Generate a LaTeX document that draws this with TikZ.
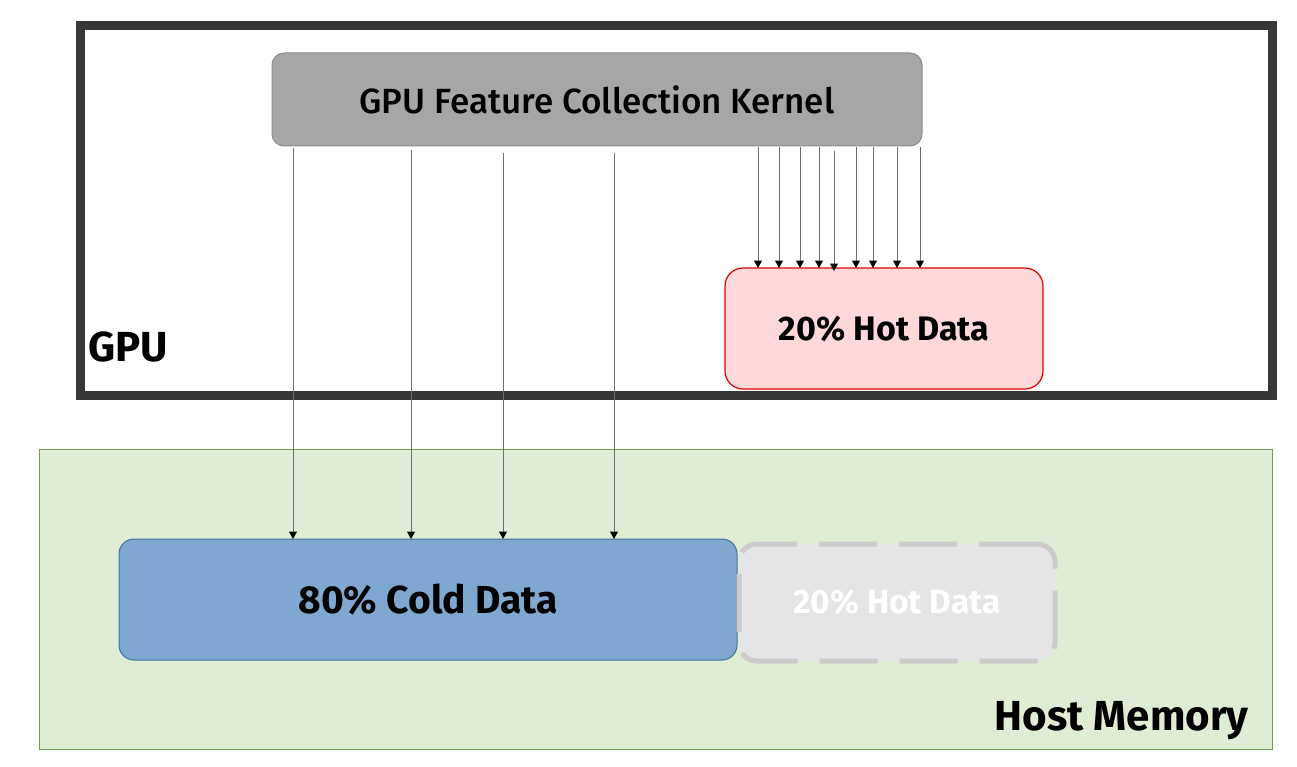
\documentclass[tikz,border=0pt]{standalone}
\usepackage{fontspec}
\setmainfont{Fira Sans}
\newfontfamily\medfont{Fira Sans Medium}
\usetikzlibrary{arrows.meta}
\definecolor{gpuborder}{HTML}{393636}
\definecolor{kernfill}{HTML}{A6A6A6}
\definecolor{kernborder}{HTML}{8C8C8C}
\definecolor{hotfill}{HTML}{FFD9D9}
\definecolor{hotborder}{HTML}{E00000}
\definecolor{hostfill}{HTML}{DFEDD4}
\definecolor{hostborder}{HTML}{6E9E52}
\definecolor{coldfill}{HTML}{7FA8D0}
\definecolor{coldborder}{HTML}{41709F}
\definecolor{ghostfill}{HTML}{E5E5E5}
\definecolor{ghostborder}{HTML}{CCCACA}
\definecolor{arrowline}{HTML}{6F6F6F}
\tikzset{
  every node/.style={outer sep=0pt},
  fetch/.style={draw=arrowline, line width=1pt, -{Triangle[width=8pt,length=7.5pt,fill=black,color=black]}},
  lbl/.style={font=\fontsize{42}{46}\selectfont\bfseries, text=black},
}
\begin{document}
\begin{tikzpicture}[x=1pt,y=-1pt]
\useasboundingbox (0,0) rectangle (1297,767);
% host memory
\node[draw=hostborder, fill=hostfill, line width=1pt, minimum width=1233pt, minimum height=300pt, anchor=north west, inner sep=0pt] (host) at (39,449) {};
\node[lbl, anchor=east] (hostlbl) at (1252,721) {Host Memory};
% GPU
\node[draw=gpuborder, line width=9pt, minimum width=1192pt, minimum height=369pt, anchor=north west, inner sep=0pt] (gpu) at (80,26) {};
\node[lbl, anchor=west, inner sep=0pt] (gpulbl) at (88,347) {GPU};
% kernel
\node[draw=kernborder, fill=kernfill, line width=1pt, rounded corners=12pt, minimum width=650pt, minimum height=93pt, anchor=north west, inner sep=0pt, font=\fontsize{35}{40}\medfont] (kern) at (272,53) {GPU Feature Collection Kernel};
% hot data on GPU
\node[draw=hotborder, fill=hotfill, line width=1.2pt, rounded corners=18pt, minimum width=318pt, minimum height=121pt, anchor=north west, inner sep=0pt, font=\fontsize{34}{38}\selectfont\bfseries] (hot) at (725,268) {20\% Hot Data};
% cold data
\node[draw=coldborder, fill=coldfill, line width=1pt, rounded corners=15pt, minimum width=618pt, minimum height=121pt, anchor=north west, inner sep=0pt, font=\fontsize{39}{44}\selectfont\bfseries] (cold) at (119,539) {80\% Cold Data};
% ghost hot data
\node[draw=ghostborder, fill=ghostfill, line width=5pt, dash pattern=on 58pt off 22pt, rounded corners=18pt, minimum width=316pt, minimum height=117pt, anchor=north west, inner sep=0pt, text=white, font=\fontsize{33.5}{38}\selectfont\bfseries] (ghost) at (739,544) {20\% Hot Data};
% cold fetches
\foreach \x/\s in {293/148,411/150,503/153,614/153}{
  \draw[fetch] (\x,\s) -- (\x,539);
}
% hot fetches
\foreach \x/\s/\e in {758/147/268,779/147/268,800/147/268,819/147/268,834/151/271,856/147/268,873/147/268,897/147/268,920/147/268}{
  \draw[fetch] (\x,\s) -- (\x,\e);
}
\end{tikzpicture}
\end{document}
